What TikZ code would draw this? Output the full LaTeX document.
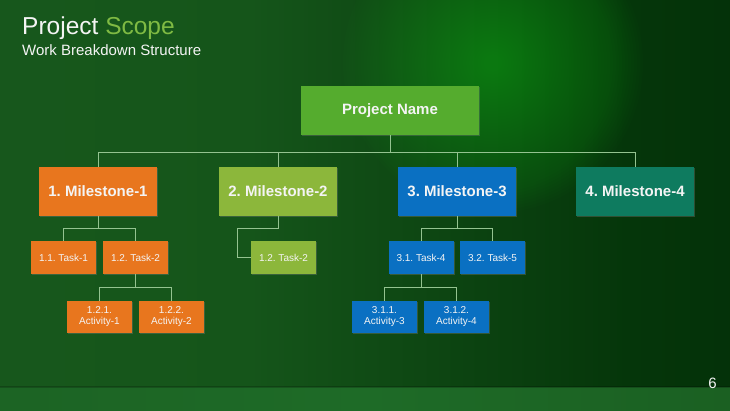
\documentclass[tikz,border=0pt]{standalone}
\usepackage{fontspec}
\setmainfont{Liberation Sans}
\usetikzlibrary{shadows}
\frenchspacing
\definecolor{bgA}{HTML}{1B5B1F}
\definecolor{bgB}{HTML}{15551A}
\definecolor{bgC}{HTML}{05360A}
\definecolor{bgD}{HTML}{002303}
\definecolor{glow}{HTML}{2CA22E}
\definecolor{bandA}{HTML}{1A5C21}
\definecolor{bandB}{HTML}{1E6B27}
\definecolor{bandC}{HTML}{17551D}
\definecolor{orangeC}{HTML}{E8761E}
\definecolor{lgreenC}{HTML}{8CB73B}
\definecolor{pnC}{HTML}{55AC2E}
\definecolor{blueC}{HTML}{0A70C2}
\definecolor{tealC}{HTML}{0E7B5F}
\definecolor{lineC}{HTML}{94C390}
\definecolor{scopeC}{HTML}{7FBA43}
\definecolor{textC}{HTML}{F4F4F4}
\pgfdeclarehorizontalshading{bgshade}{100bp}{color(0bp)=(bgA); color(42bp)=(bgB); color(68bp)=(bgC); color(100bp)=(bgD)}
\pgfdeclarehorizontalshading{bandshade}{100bp}{color(0bp)=(bandA); color(50bp)=(bandB); color(100bp)=(bandC)}
\tikzset{
  box/.style={rectangle, inner sep=0pt, text=textC, align=center,
    drop shadow={shadow xshift=1pt, shadow yshift=-1.2pt, opacity=0.35}},
  mstone/.style={box, minimum width=118pt, minimum height=49pt, font=\fontsize{15}{18}\selectfont\bfseries},
  taskbox/.style={box, minimum width=65pt, minimum height=33pt, font=\fontsize{10}{11}\selectfont},
  actbox/.style={box, minimum width=65pt, minimum height=32pt, font=\fontsize{10}{11}\selectfont},
  conn/.style={draw=lineC, line width=0.7pt},
}
\begin{document}
\begin{tikzpicture}[x=1pt, y=-1pt]
\useasboundingbox (0,0) rectangle (730,411);
% background
\shade[shading=bgshade] (0,0) rectangle (730,411);
\begin{scope}
  \clip (0,0) rectangle (730,386);
  \foreach \r in {3,6,...,150} {
    \fill[glow, opacity=0.022] (493,63) circle (\r);
  }
\end{scope}
\shade[shading=bandshade] (0,387) rectangle (730,411);
\fill[black, opacity=0.2] (0,385.5) rectangle (730,387.5);

% title
\node[anchor=base west, inner sep=0pt, text=textC, font=\fontsize{24.5}{28}\selectfont] (title) at (22,35) {Project \textcolor{scopeC}{Scope}};
\node[anchor=base west, inner sep=0pt, text=textC, font=\fontsize{15}{18}\selectfont] (subtitle) at (22,56) {Work Breakdown Structure};
\node[anchor=base east, inner sep=0pt, text=textC, font=\fontsize{15}{18}\selectfont] (pagenum) at (717,388) {6};

% nodes
\node[box, fill=pnC, minimum width=178pt, minimum height=49pt, font=\fontsize{15}{18}\selectfont\bfseries] (pn) at (390,110.5) {Project Name};
\node[mstone, fill=orangeC] (m1) at (98,191.5) {1. Milestone-1};
\node[mstone, fill=lgreenC] (m2) at (278,191.5) {2. Milestone-2};
\node[mstone, fill=blueC] (m3) at (457,191.5) {3. Milestone-3};
\node[mstone, fill=tealC] (m4) at (635,191.5) {4. Milestone-4};

\node[taskbox, fill=orangeC] (t11) at (63.5,257.5) {1.1. Task-1};
\node[taskbox, fill=orangeC] (t12) at (135.5,257.5) {1.2. Task-2};
\node[taskbox, fill=lgreenC] (t2) at (283.5,257.5) {1.2. Task-2};
\node[taskbox, fill=blueC] (t31) at (421,257.5) {3.1. Task-4};
\node[taskbox, fill=blueC] (t32) at (492.5,257.5) {3.2. Task-5};

\node[actbox, fill=orangeC] (a1) at (99.5,317) {1.2.1.\\Activity-1};
\node[actbox, fill=orangeC] (a2) at (171.5,317) {1.2.2.\\Activity-2};
\node[actbox, fill=blueC] (a3) at (384.5,317) {3.1.1.\\Activity-3};
\node[actbox, fill=blueC] (a4) at (456.5,317) {3.1.2.\\Activity-4};

% connectors
\draw[conn] (pn.south) -- ++(0,17) -| (m1.north);
\draw[conn] (pn.south) -- ++(0,17) -| (m2.north);
\draw[conn] (pn.south) -- ++(0,17) -| (m3.north);
\draw[conn] (pn.south) -- ++(0,17) -| (m4.north);

\draw[conn] (m1.south) -- ++(0,12) -| (t11.north);
\draw[conn] (m1.south) -- ++(0,12) -| (t12.north);
\draw[conn] (t12.south) -- ++(0,13) -| (a1.north);
\draw[conn] (t12.south) -- ++(0,13) -| (a2.north);

\draw[conn] (m2.south) -- ++(0,12) -- ++(-41,0) |- (t2.west);

\draw[conn] (m3.south) -- ++(0,12) -| (t31.north);
\draw[conn] (m3.south) -- ++(0,12) -| (t32.north);
\draw[conn] (t31.south) -- ++(0,13) -| (a3.north);
\draw[conn] (t31.south) -- ++(0,13) -| (a4.north);
\end{tikzpicture}
\end{document}
